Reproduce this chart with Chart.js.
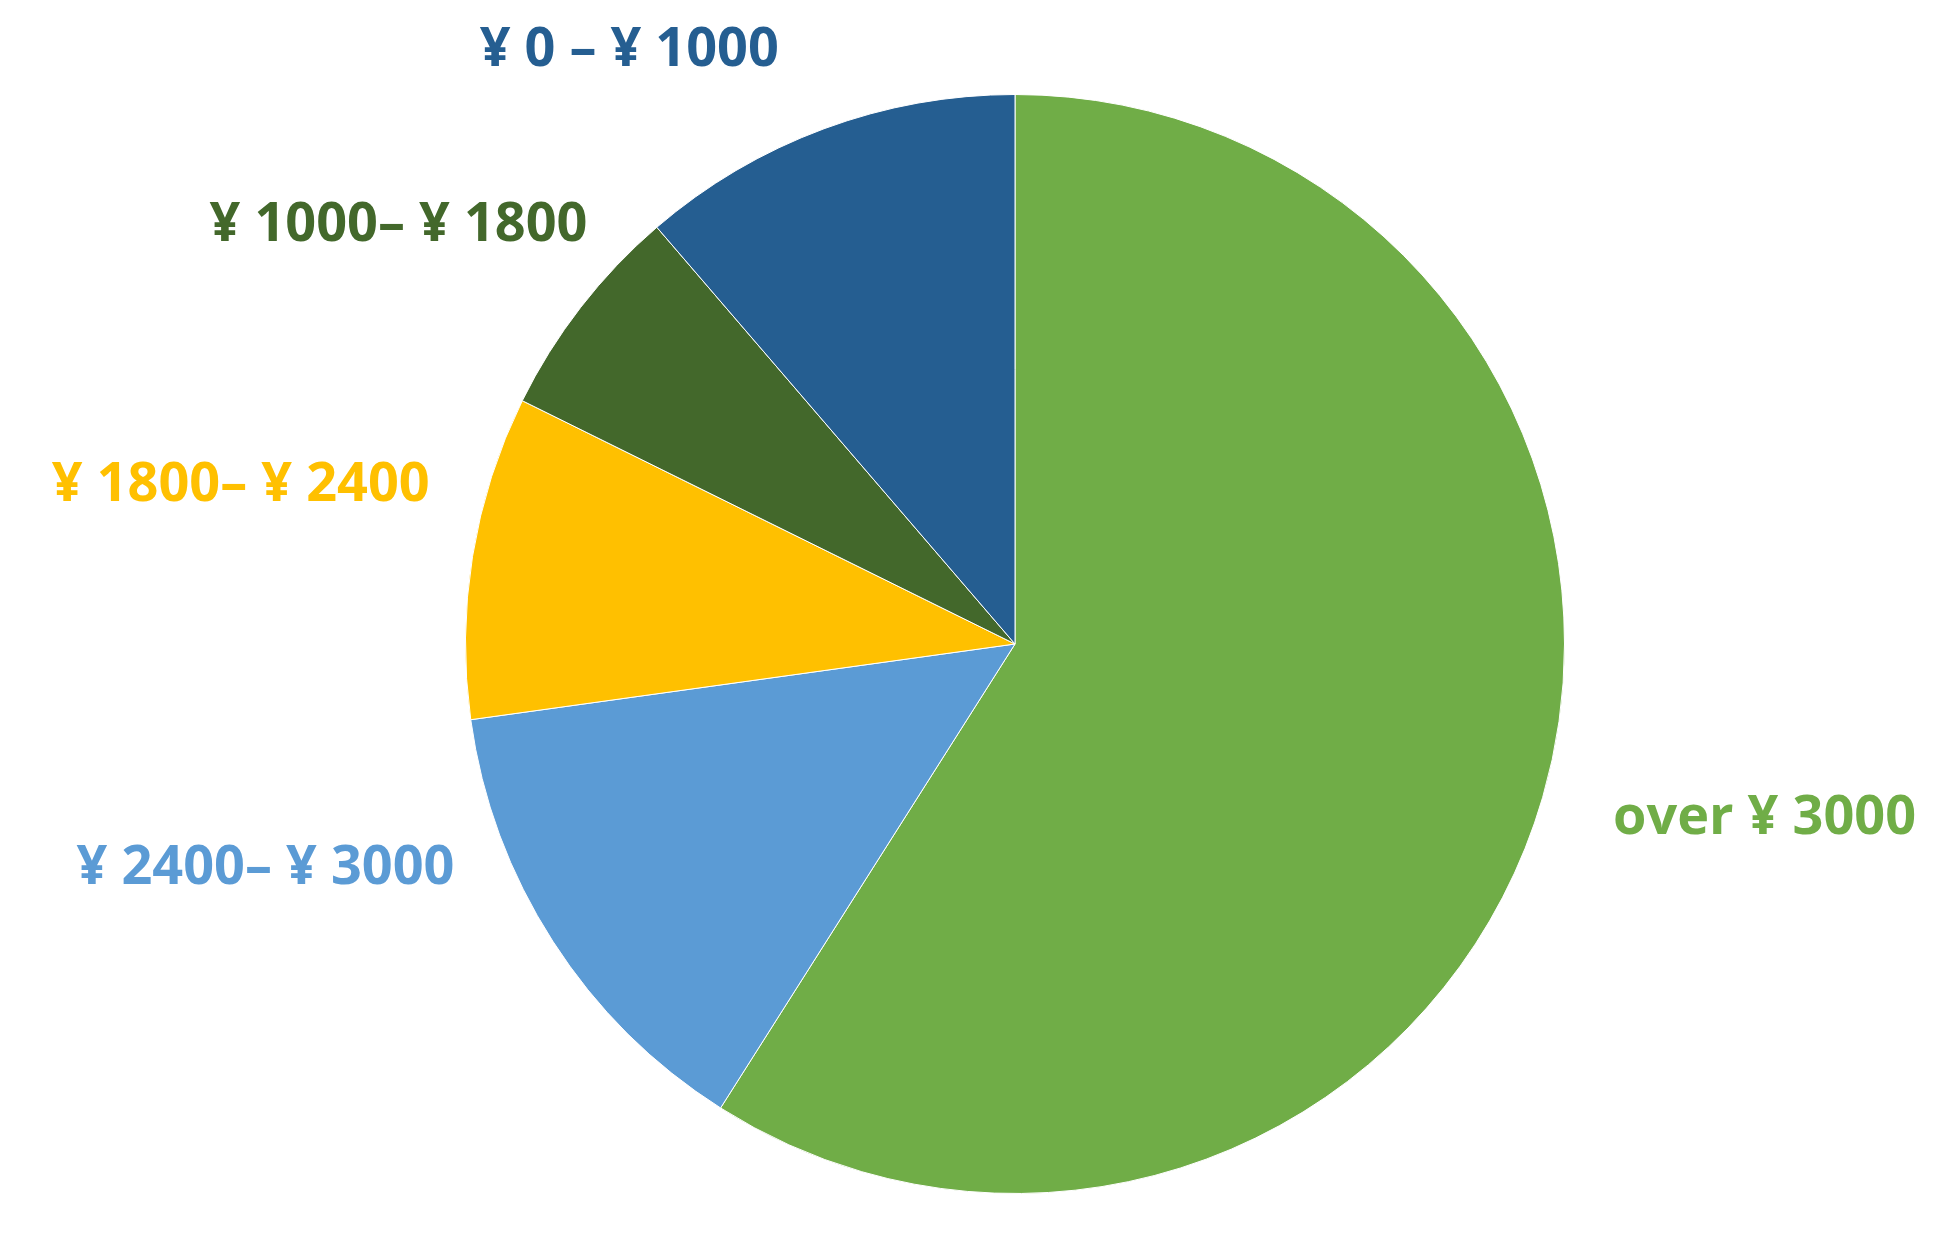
<!DOCTYPE html>
<html><head><meta charset="utf-8">
<script src="https://cdn.jsdelivr.net/npm/chart.js@4"></script>
<style>html,body{margin:0;padding:0;background:#fff}#w{width:1951px;height:1259px}</style>
</head><body><div id="w"><canvas id="c"></canvas></div>
<script>
const categories = ["over ¥ 3000", "¥ 2400– ¥ 3000", "¥ 1800– ¥ 2400", "¥ 1000– ¥ 1800", "¥ 0 – ¥ 1000"];
const shares = [59.0, 13.8, 9.5, 6.4, 11.3];
const colors = ["#70AD47", "#5B9BD5", "#FFC000", "#43682B", "#255E91"];
const labelPos = [[1.364,0.318],[-1.364,0.409],[-1.409,-0.289],[-1.122,-0.762],[-0.702,-1.08]];

const labelPlugin = {
  id: 'outLabels',
  afterDatasetsDraw(chart) {
    const ctx = chart.ctx;
    const arcs = chart.getDatasetMeta(0).data;
    ctx.save();
    ctx.font = "bold 54px 'Open Sans'";
    ctx.textAlign = 'center';
    ctx.textBaseline = 'middle';
    arcs.forEach((a, i) => {
      const r = a.outerRadius;
      ctx.fillStyle = colors[i];
      ctx.fillText(categories[i], a.x + labelPos[i][0]*r, a.y + labelPos[i][1]*r);
    });
    ctx.restore();
  }
};

new Chart(document.getElementById('c'), {
  type: 'pie',
  data: { labels: categories, datasets: [{ data: shares, backgroundColor: colors, borderColor: '#ffffff', borderWidth: 1 }] },
  options: {
    responsive: true, maintainAspectRatio: false, animation: false,
    layout: { padding: { top: 94, bottom: 65, left: 200, right: 121 } },
    plugins: { legend: { display: false }, tooltip: { enabled: false } }
  },
  plugins: [labelPlugin]
});
</script></body></html>
